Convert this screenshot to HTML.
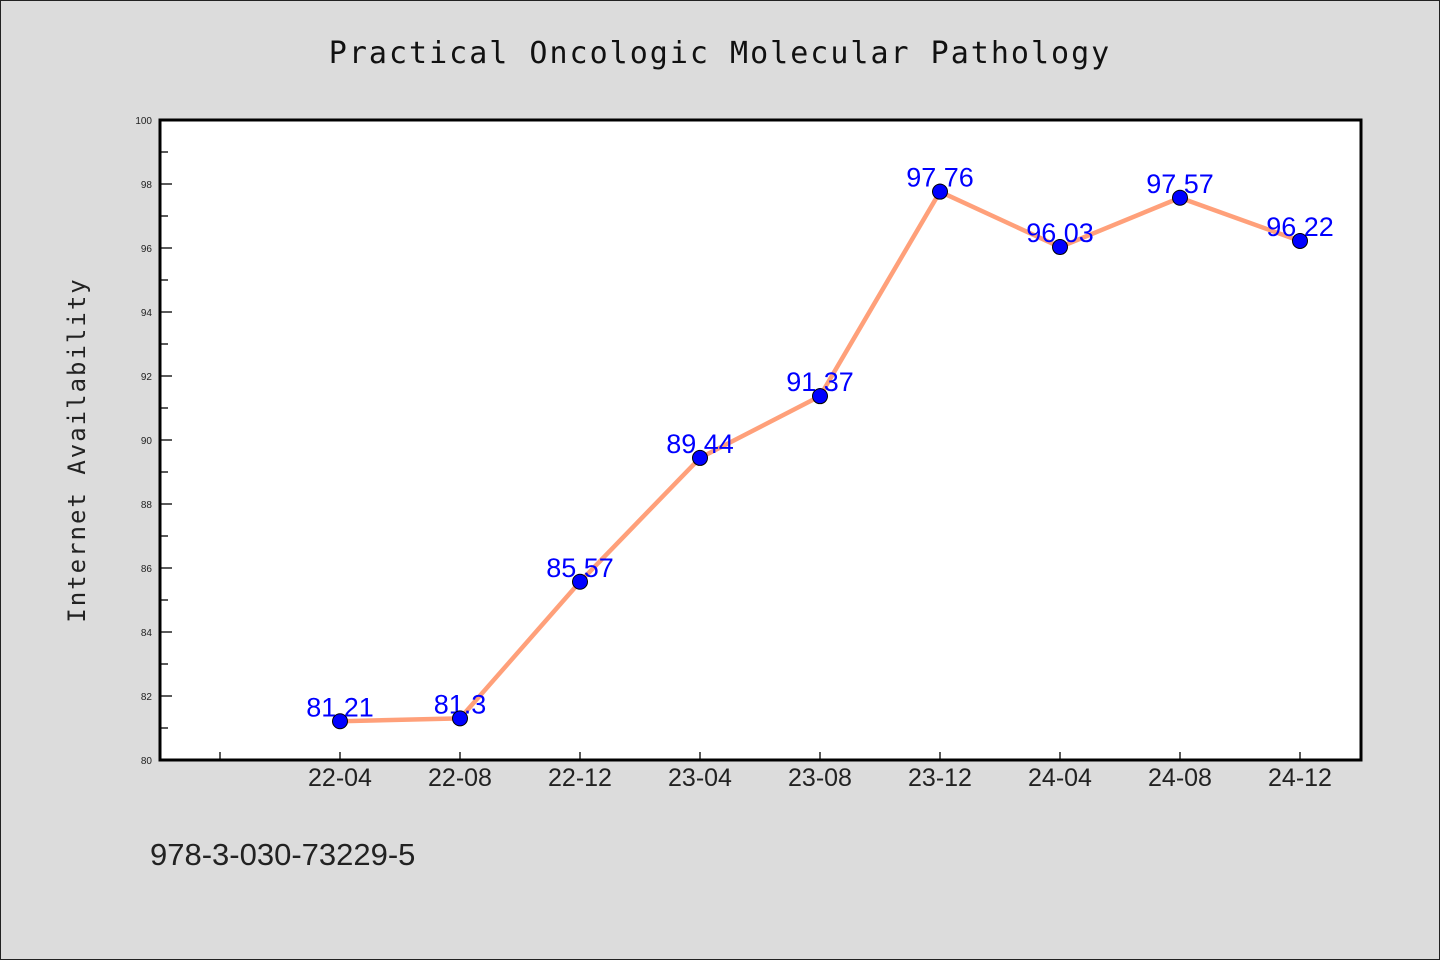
<!DOCTYPE html>
<html><head><meta charset="utf-8"><style>
html,body{margin:0;padding:0;background:#dcdcdc;}
svg{display:block;font-family:"Liberation Sans","DejaVu Sans",sans-serif;}
</style></head><body>
<svg id="chart" width="1440" height="960" viewBox="0 0 1440 960" xmlns="http://www.w3.org/2000/svg">
<rect x="0.5" y="0.5" width="1439" height="959" fill="#dcdcdc" stroke="#222"/>
<text x="720" y="63" text-anchor="middle" font-size="30" fill="#111" letter-spacing="2" font-family="'DejaVu Sans Mono','Liberation Mono',monospace">Practical Oncologic Molecular Pathology</text>
<rect x="160" y="120" width="1201" height="640" fill="#fff"/>
<g id="grid"></g>
<g id="series"></g>
<path d="M160,120 H1361 V760 H160 Z" fill="none" stroke="#000" stroke-width="3"/>
<text transform="translate(85,450) rotate(-90)" text-anchor="middle" font-size="24" fill="#222" letter-spacing="2" font-family="'DejaVu Sans Mono','Liberation Mono',monospace">Internet Availability</text>
<text x="150" y="865" font-size="31" fill="#222">978-3-030-73229-5</text>
</svg>
<script>
const categories = ["22-04","22-08","22-12","23-04","23-08","23-12","24-04","24-08","24-12"];
const values = [81.21,81.3,85.57,89.44,91.37,97.76,96.03,97.57,96.22];
const valueLabels = ["81.21","81.3","85.57","89.44","91.37","97.76","96.03","97.57","96.22"];
const yTicks = [80,82,84,86,88,90,92,94,96,98,100];
const yMin = 80, yMax = 100;
const NS = "http://www.w3.org/2000/svg";
const X0 = 160, X1 = 1361, Y0 = 760, Y1 = 120;
function xPos(i){ return X0 + 60 + 120 * (i + 1); }
function yPos(v){ return Y0 - (v - yMin) / (yMax - yMin) * (Y0 - Y1); }
function mk(tag, attrs, parent){ const e = document.createElementNS(NS, tag); for (const k in attrs) e.setAttribute(k, attrs[k]); parent.appendChild(e); return e; }
const grid = document.getElementById('grid');
const series = document.getElementById('series');
yTicks.forEach((t, i) => {
  const y = yPos(t);
  const tk = mk('line', {x1: X0, x2: X0 + 12, y1: y, y2: y, stroke: '#000', 'stroke-width': 1.3}, grid);
  
  
  const lb = mk('text', {x: 152, y: y + 4, 'text-anchor': 'end', 'font-size': 10, fill: '#222'}, grid);
  lb.textContent = t;
  
  
  if (i < yTicks.length - 1) {
    const ym = yPos(t + (yTicks[1] - yTicks[0]) / 2);
    const mn = mk('line', {x1: X0, x2: X0 + 8, y1: ym, y2: ym, stroke: '#000', 'stroke-width': 1.3}, grid);
    
    
  }
});
const et = mk('line', {x1: xPos(-1), x2: xPos(-1), y1: Y0, y2: Y0 - 8, stroke: '#000', 'stroke-width': 1.3}, grid);


categories.forEach((c, i) => {
  const x = xPos(i);
  const tk = mk('line', {x1: x, x2: x, y1: Y0, y2: Y0 - 8, stroke: '#000', 'stroke-width': 1.3}, grid);
  
  
  const lb = mk('text', {x: x, y: 786, 'text-anchor': 'middle', 'font-size': 25, fill: '#222'}, grid);
  lb.textContent = c;
  
  
});
const pts = values.map((v, i) => xPos(i) + ',' + yPos(v)).join(' ');
const line = mk('polyline', {points: pts, fill: 'none', stroke: '#ffa07a', 'stroke-width': 4.5, 'stroke-linejoin': 'round'}, series);


values.forEach((v, i) => {
  const x = xPos(i), y = yPos(v);
  const lb = mk('text', {x: x, y: y - 5, 'text-anchor': 'middle', 'font-size': 27, fill: '#0000ff'}, series);
  lb.textContent = valueLabels[i];
  
  
  const pt = mk('circle', {cx: x, cy: y, r: 7.5, fill: '#0000ff', stroke: '#000', 'stroke-width': 1}, series);
  
  
});
</script>
</body></html>
